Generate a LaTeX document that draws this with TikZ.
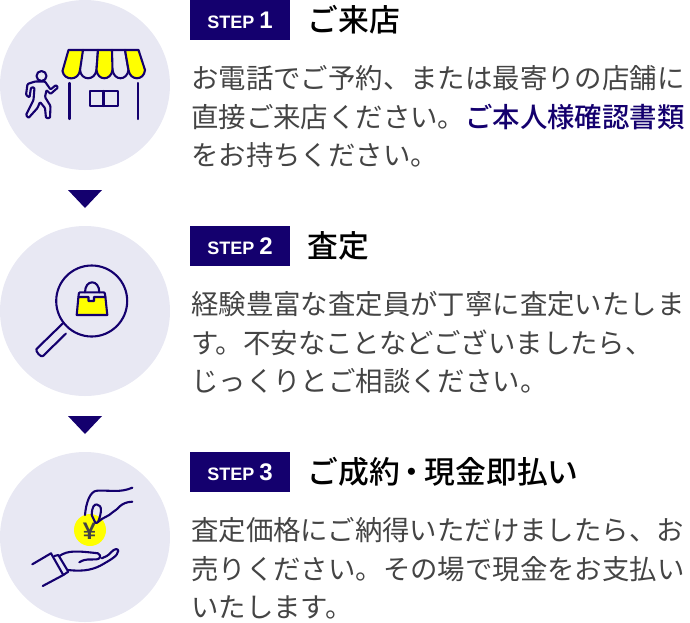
\documentclass[tikz,border=0pt]{standalone}
\usepackage{fontspec}
\setmainfont{Noto Sans CJK JP}
\newfontfamily\medfont{Noto Sans CJK JP Medium}
\newfontfamily\latinfont{Liberation Sans}
\usetikzlibrary{positioning}

\definecolor{softnavy}{RGB}{20, 0, 110}
\definecolor{softlilac}{RGB}{232, 232, 243}
\definecolor{softyellow}{RGB}{255, 255, 0}
\definecolor{softgray}{RGB}{68, 68, 68}
\definecolor{softink}{RGB}{68, 68, 68}

\begin{document}
\begin{tikzpicture}[x=1pt, y=-1pt,
disc/.style={circle, fill=softlilac, minimum size=170pt, inner sep=0pt},
stepbox/.style={fill=softnavy, text=white, minimum width=100pt, minimum height=40pt, inner sep=0pt, font=\latinfont\bfseries\fontsize{18}{20}\selectfont},
title/.style={right=17pt of #1, inner sep=0pt, font=\medfont\fontsize{30.8}{34}\selectfont},
body/.style={anchor=north west, inner sep=0pt, align=left, text=softink, font=\fontsize{27.4}{38.7}\selectfont},
icon/.style={draw=softnavy, line width=2.1pt, line cap=round, line join=round},
pointer/.style={fill=softnavy}]

\useasboundingbox (0,0) rectangle (690,622);

% Circles
\node[disc] (disc1) at (85,85) {};
\node[disc] (disc2) at (85,311) {};
\node[disc] (disc3) at (85,537) {};

% Pointers
\fill[pointer] (68,190) -- (102,190) -- (85,208) -- cycle;
\fill[pointer] (68,416) -- (102,416) -- (85,434) -- cycle;

% Steps
\node[stepbox] (step1) at (240,20) {STEP \fontsize{24}{24}\selectfont 1};
\node[stepbox] (step2) at (240,246) {STEP \fontsize{24}{24}\selectfont 2};
\node[stepbox] (step3) at (240,472) {STEP \fontsize{24}{24}\selectfont 3};
\node[title=step1] (title1) {ご来店};
\node[title=step2] (title2) {査定};
\node[title=step3] (title3) {ご成約\hspace{-3pt}・\hspace{-3pt}現金即払い};

% Texts
\node[body] (text1) at (191,65) {お電話でご予約、または最寄りの店舗に\\直接ご来店ください。{\color{softnavy}\medfont ご本人様確認書類}\\をお持ちください。};
\node[body] (text2) at (191,291) {経験豊富な査定員が丁寧に査定いたしま\\す。不安なことなどございましたら、\\じっくりとご相談ください。};
\node[body] (text3) at (191,517) {査定価格にご納得いただけましたら、お\\売りください。その場で現金をお支払い\\いたします。};

% Shop
\draw[icon, fill=softyellow] (68.5,50) -- (83,50) -- (80,70) .. controls (79,81) and (64,81) .. (62.5,71) -- cycle;
\draw[icon] (83,50) -- (98,50) -- (96.5,70) .. controls (95,81) and (81,81) .. (80,70);
\draw[icon, fill=softyellow] (98,50) -- (112,50) -- (112.5,70) .. controls (111,81) and (97.5,81) .. (96.5,70) -- cycle;
\draw[icon] (112,50) -- (125,50) -- (128.5,70) .. controls (127,81) and (114,81) .. (112.5,70);
\draw[icon, fill=softyellow] (125,50) -- (138.5,50) -- (145,70) .. controls (144,81) and (130,81) .. (128.5,70) -- cycle;
\draw[icon] (69.5,83) -- (69.5,119);
\draw[icon] (138,83) -- (138,119);
\draw[icon] (90,91) rectangle (118,106);
\draw[icon] (103.5,91) -- (103.5,106);

% Walker
\draw[icon] (41.5,76) circle (5);
\draw[icon, rounded corners=1pt] (35,81.5) -- (27.5,84) -- (26,95) -- (29.5,97.5) -- (31,87.5) -- (34.5,87.5) -- (33.5,100) -- (26,115) -- (28.5,118) -- (37.5,108) -- (40,102) -- (45,108) -- (46,118) -- (50,118) -- (50.5,106) -- (45,97) -- (46.5,90) -- (50.5,94) -- (58,87.5) -- (56,85) -- (50.5,89.5) -- (45,81.5) -- cycle;

% Magnifier
\draw[icon] (91.7,301) circle (35.5);
\draw[icon] (62.7,323.5) -- (36.5,349) .. controls (35,351) and (41,358) .. (43,356) -- (66,333.5);

% Bag
\draw[icon] (85,292.3) .. controls (85,279) and (99.3,279) .. (99.3,292.3);
\draw[icon, fill=softyellow] (78.4,297) -- (88.5,297) -- (88.5,301) -- (94,301) -- (94,297) -- (105.4,297) -- (107.3,315) -- (76.7,315) -- cycle;
\draw[icon, rounded corners=1pt] (78.4,297) -- (79,292.3) -- (104.7,292.3) -- (105.4,297);

% Coin
\fill[softyellow] (90,530) circle (16);
\node[inner sep=0pt, text=softgray, font=\latinfont\bfseries\fontsize{24}{24}\selectfont] (yen) at (89.5,531) {¥};

% Hands
\draw[icon] (85,515) .. controls (86,503) and (90,491) .. (97,490.7) .. controls (110,490) and (120,493) .. (132.3,487.7);
\draw[icon] (132.3,501.7) .. controls (120,502) and (118,510) .. (113,512) .. controls (108,517) and (103,517) .. (98,522);
\draw[icon] (91.7,515) .. controls (92,507) and (94,504) .. (97,504.5) .. controls (103,505) and (101,514) .. (98.5,521) .. controls (97,524) and (95,523) .. (95,522) -- (91.7,515);
\draw[icon] (32.3,564.3) -- (51,553.3) -- (63.3,575) -- (42.7,586);
\draw[icon] (54.3,556) -- (58.3,555) -- (68.3,571.7) -- (63.3,575);
\draw[icon] (59.3,556) .. controls (68,550) and (78,551) .. (98,553.3) .. controls (102,556) and (100,559) .. (96.7,559.3) .. controls (90,560) and (86,558) .. (79.3,562.3);
\draw[icon] (68.3,570) .. controls (85,572) and (95,569) .. (103.3,564) .. controls (110,560) and (118,556) .. (118.3,550.7) .. controls (118,548) and (114,549) .. (111.7,551.7) .. controls (108,556) and (105,557) .. (101.7,558.3);

\end{tikzpicture}
\end{document}
